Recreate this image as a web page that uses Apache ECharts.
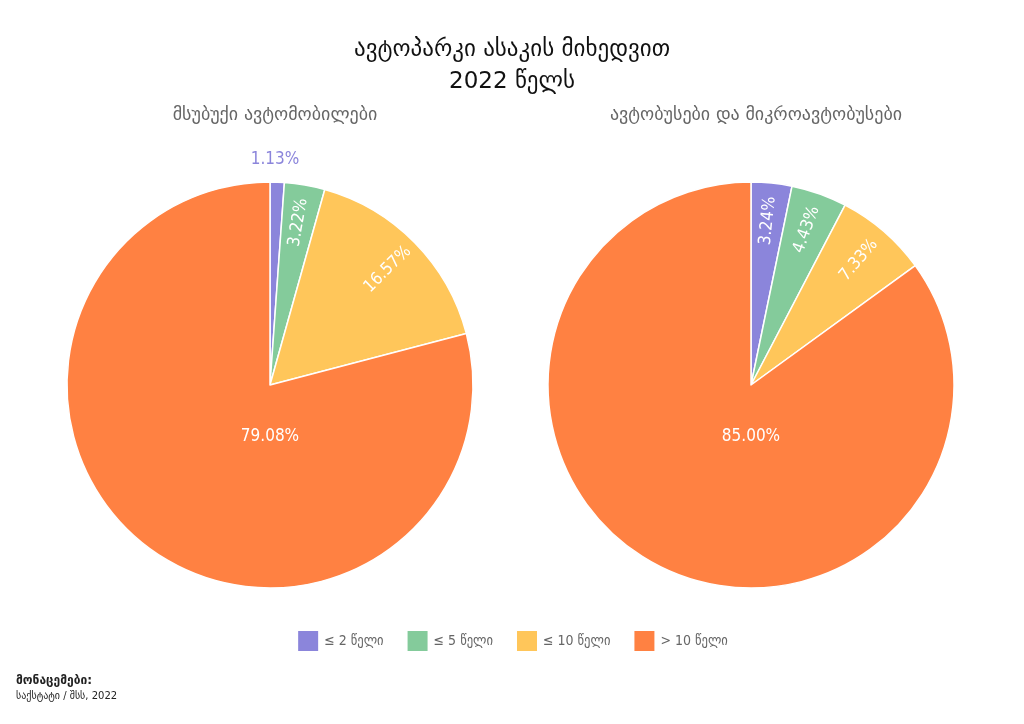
<!DOCTYPE html>
<html>
<head>
<meta charset="utf-8">
<script src="https://cdn.jsdelivr.net/npm/echarts@6/dist/echarts.min.js"></script>
<style>
  html, body { margin: 0; padding: 0; background: #fff; }
  #chart { width: 1024px; height: 724px; }
</style>
</head>
<body>
<div id="chart"></div>
<script>
// მონაცემები
var ageGroups = ['≤ 2 წელი', '≤ 5 წელი', '≤ 10 წელი', '> 10 წელი'];
var carShares = [1.13, 3.22, 16.57, 79.08];
var busShares = [3.24, 4.43, 7.33, 85.00];
var colors = ['#8b85db', '#84cb9b', '#ffc65a', '#ff8142'];

var geoFont = 'DejaVu Sans, sans-serif';
var numFont = 'DejaVu Sans Condensed, Liberation Sans Narrow, sans-serif';

var chart = echarts.init(document.getElementById('chart'));

function buildData(values, outsideIdx) {
    return values.map(function (v, i) {
        var item = { name: ageGroups[i], value: v };
        if (i === outsideIdx) {
            item.label = {
                position: 'outside',
                rotate: 0,
                color: colors[0]
            };
            item.labelLine = { show: false, length: 6, length2: 0 };
        }
        if (i === 3) {
            item.label = { rotate: 0 };
        }
        return item;
    });
}

function pieSeries(values, centerX, outsideIdx) {
    return {
        type: 'pie',
        center: [centerX, 385],
        radius: [0, 203],
        startAngle: 90,
        clockwise: true,
        avoidLabelOverlap: false,
        emphasis: { disabled: true },
        itemStyle: { borderColor: '#fff', borderWidth: 1.5 },
        label: {
            position: 'inside',
            rotate: 'radial',
            color: '#fff',
            fontFamily: numFont,
            fontSize: 17,
            formatter: function (p) { return p.value.toFixed(2) + '%'; }
        },
        labelLine: { show: false },
        labelLayout: function (p) {
            if (p.dataIndex === 3) {
                return { x: centerX, y: 437, align: 'center', verticalAlign: 'middle' };
            }
            if (p.dataIndex === outsideIdx) {
                return { x: centerX + 5, y: 160, align: 'center', verticalAlign: 'middle' };
            }
            // შიდა წარწერები რადიუსის ~0.8-ზე
            var mx = p.labelRect.x + p.labelRect.width / 2;
            var my = p.labelRect.y + p.labelRect.height / 2;
            var dx = mx - centerX, dy = my - 385;
            var d = Math.sqrt(dx * dx + dy * dy) || 1;
            var k = 165 / d;
            return { x: centerX + dx * k, y: 385 + dy * k, align: 'center', verticalAlign: 'middle' };
        },
        data: buildData(values, outsideIdx)
    };
}

var option = {
    backgroundColor: '#fff',
    color: colors,
    animation: false,
    title: [
        {
            text: 'ავტოპარკი ასაკის მიხედვით\n2022 წელს',
            left: 'center',
            top: 29,
            textStyle: { fontFamily: geoFont, fontSize: 23, fontWeight: 'normal', color: '#111', lineHeight: 32 }
        },
        {
            text: 'მსუბუქი ავტომობილები',
            left: 270,
            top: 101,
            textAlign: 'center',
            textStyle: { fontFamily: geoFont, fontSize: 18, fontWeight: 'normal', color: '#666' }
        },
        {
            text: 'ავტობუსები და მიკროავტობუსები',
            left: 751,
            top: 101,
            textAlign: 'center',
            textStyle: { fontFamily: geoFont, fontSize: 18, fontWeight: 'normal', color: '#666' }
        },
        {
            text: 'მონაცემები:',
            subtext: 'საქსტატი / შსს, 2022',
            left: 11,
            top: 670,
            itemGap: 4,
            textStyle: { fontFamily: geoFont, fontSize: 12, fontWeight: 'bold', color: '#222' },
            subtextStyle: { fontFamily: geoFont, fontSize: 10, color: '#222' }
        }
    ],
    legend: {
        data: ageGroups,
        left: 'center',
        top: 624,
        icon: 'rect',
        itemWidth: 22,
        itemHeight: 22,
        itemGap: 22,
        selectedMode: false,
        textStyle: { fontFamily: 'DejaVu Sans Condensed, DejaVu Sans, sans-serif', fontSize: 14, color: '#666' }
    },
    series: [
        pieSeries(carShares, 270, 0),
        pieSeries(busShares, 751, -1)
    ]
};

chart.setOption(option);
</script>
</body>
</html>
